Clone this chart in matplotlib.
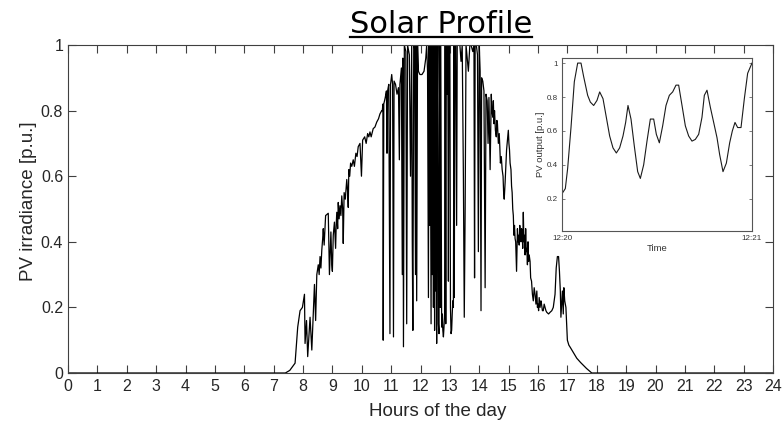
import matplotlib
matplotlib.use('Agg')
import matplotlib.pyplot as plt
from matplotlib.lines import Line2D

# ---------------- data ----------------
morning_hours = [0, 7.40, 7.55, 7.73, 7.82, 7.90, 7.98, 8.05, 8.07, 8.12,
                 8.16, 8.24, 8.30, 8.35, 8.39, 8.43, 8.47, 8.52, 8.55, 8.58,
                 8.61, 8.64, 8.67, 8.69, 8.72, 8.77, 8.86, 8.90, 8.93, 8.95,
                 8.98, 9.00, 9.03, 9.07, 9.11, 9.13, 9.15, 9.18, 9.20, 9.23,
                 9.26, 9.29, 9.32, 9.35, 9.37, 9.40, 9.44, 9.49, 9.52, 9.54,
                 9.56, 9.59, 9.62, 9.66, 9.71, 9.75, 9.80, 9.84, 9.88, 9.94,
                 9.99, 10.03, 10.10, 10.15, 10.20, 10.24, 10.28, 10.32, 10.39, 10.45,
                 10.51, 10.57, 10.62, 10.68]
morning_irr = [0, 0, 0.008, 0.03, 0.14, 0.19, 0.20, 0.24, 0.09, 0.16,
               0.05, 0.17, 0.07, 0.18, 0.27, 0.16, 0.30, 0.33, 0.30, 0.355,
               0.32, 0.375, 0.41, 0.44, 0.39, 0.48, 0.487, 0.30, 0.38, 0.43,
               0.33, 0.31, 0.42, 0.46, 0.38, 0.45, 0.49, 0.44, 0.52, 0.47,
               0.51, 0.48, 0.54, 0.50, 0.395, 0.55, 0.53, 0.59, 0.55, 0.505,
               0.62, 0.60, 0.64, 0.63, 0.65, 0.63, 0.67, 0.66, 0.69, 0.70,
               0.60, 0.71, 0.72, 0.70, 0.73, 0.72, 0.735, 0.72, 0.745, 0.75,
               0.765, 0.775, 0.79, 0.80]

midday_hours = [10.70, 10.72, 10.73, 10.75, 10.80, 10.84, 10.86, 10.88, 10.92, 10.96,
                10.98, 11.02, 11.05, 11.08, 11.10, 11.15, 11.20, 11.25, 11.28, 11.30,
                11.35, 11.38, 11.40, 11.42, 11.45, 11.50, 11.53, 11.56, 11.62, 11.66,
                11.70, 11.72, 11.74, 11.77, 11.80, 11.83, 11.85, 11.87, 11.90, 11.93,
                11.98, 12.05, 12.12, 12.18, 12.21, 12.24, 12.27, 12.29, 12.31, 12.33,
                12.36, 12.38, 12.40, 12.42, 12.44, 12.46, 12.48, 12.50, 12.52, 12.54,
                12.55, 12.57, 12.59, 12.61, 12.63, 12.65, 12.67, 12.69, 12.72, 12.74,
                12.76, 12.78, 12.80, 12.82, 12.84, 12.86, 12.88, 12.90, 12.93, 12.95,
                12.97, 13.00, 13.02, 13.04, 13.06, 13.08, 13.10, 13.12, 13.14, 13.15,
                13.17, 13.20, 13.23, 13.25, 13.30, 13.34, 13.38, 13.42, 13.46, 13.49,
                13.52, 13.55, 13.60, 13.63, 13.68, 13.72, 13.78, 13.82, 13.84, 13.86,
                13.90, 13.94, 13.97, 14.00, 14.03, 14.06, 14.08, 14.12, 14.16, 14.20,
                14.23, 14.27, 14.30, 14.33, 14.37]
midday_irr = [0.80, 0.82, 0.10, 0.82, 0.84, 0.86, 0.67, 0.86, 0.88, 0.12,
              0.88, 0.91, 0.88, 0.11, 0.89, 0.88, 0.85, 0.87, 0.65, 0.88,
              0.93, 0.30, 0.96, 0.08, 1.0, 0.98, 0.15, 1.0, 0.97, 0.60,
              1.0, 0.40, 0.13, 1.0, 0.99, 0.30, 1.0, 0.22, 1.0, 0.92,
              0.91, 0.91, 0.92, 0.96, 1.0, 0.92, 0.23, 1.0, 0.45, 1.0,
              0.15, 1.0, 0.30, 1.0, 0.20, 1.0, 0.13, 1.0, 0.25, 1.0,
              0.09, 0.80, 1.0, 0.15, 0.12, 1.0, 0.20, 1.0, 0.14, 0.18,
              0.13, 0.11, 0.14, 0.18, 1.0, 0.15, 1.0, 0.85, 1.0, 0.28,
              1.0, 1.0, 0.20, 0.12, 0.13, 0.18, 0.22, 0.20, 1.0, 0.23,
              1.0, 1.0, 0.45, 1.0, 1.0, 1.0, 0.95, 1.0, 0.60, 0.17,
              0.50, 1.0, 0.95, 0.92, 1.0, 1.0, 0.98, 1.0, 0.29, 1.0,
              1.0, 0.97, 0.37, 1.0, 0.92, 0.19, 0.90, 0.89, 0.86, 0.26,
              0.85, 0.83, 0.70, 0.84, 0.62]

afternoon_hours = [14.41, 14.43, 14.46, 14.48, 14.50, 14.52, 14.55, 14.58, 14.60, 14.62,
                   14.65, 14.68, 14.70, 14.72, 14.75, 14.78, 14.81, 14.83, 14.85, 14.88,
                   14.90, 14.93, 14.95, 14.97, 14.99, 15.01, 15.03, 15.05, 15.08, 15.10,
                   15.12, 15.14, 15.16, 15.18, 15.20, 15.22, 15.24, 15.27, 15.30, 15.32,
                   15.34, 15.36, 15.38, 15.40, 15.42, 15.44, 15.46, 15.48, 15.50, 15.52,
                   15.54, 15.56, 15.58, 15.60, 15.62, 15.64, 15.66, 15.68, 15.70, 15.73,
                   15.75, 15.78, 15.81, 15.84, 15.87, 15.90, 15.93, 15.96, 15.98, 16.00,
                   16.02, 16.04, 16.07, 16.10, 16.12, 16.15, 16.18, 16.21, 16.24, 16.27,
                   16.30, 16.36, 16.41, 16.47, 16.52, 16.58, 16.62, 16.66, 16.70, 16.73,
                   16.76, 16.78, 16.80, 16.83, 16.86, 16.88, 16.91, 16.95, 16.98, 17.00,
                   17.05, 17.10, 17.20, 17.32, 17.45, 17.54, 17.65, 17.75, 17.83, 24.0]
afternoon_irr = [0.85, 0.80, 0.78, 0.83, 0.76, 0.80, 0.74, 0.72, 0.77, 0.76,
                 0.70, 0.73, 0.69, 0.64, 0.66, 0.62, 0.60, 0.55, 0.53, 0.58,
                 0.62, 0.68, 0.70, 0.72, 0.74, 0.70, 0.68, 0.64, 0.62, 0.57,
                 0.55, 0.50, 0.48, 0.42, 0.45, 0.41, 0.40, 0.31, 0.44, 0.40,
                 0.42, 0.39, 0.45, 0.41, 0.40, 0.44, 0.43, 0.38, 0.49, 0.40,
                 0.42, 0.36, 0.44, 0.37, 0.38, 0.33, 0.40, 0.34, 0.36, 0.34,
                 0.29, 0.28, 0.24, 0.22, 0.26, 0.24, 0.21, 0.25, 0.20, 0.21,
                 0.19, 0.23, 0.20, 0.22, 0.21, 0.19, 0.19, 0.21, 0.20, 0.19,
                 0.185, 0.18, 0.185, 0.19, 0.20, 0.24, 0.32, 0.355, 0.355, 0.31,
                 0.25, 0.17, 0.20, 0.25, 0.18, 0.26, 0.22, 0.20, 0.14, 0.10,
                 0.085, 0.078, 0.063, 0.045, 0.032, 0.024, 0.014, 0.006, 0.0, 0.0]

inset_seconds = [0, 1.05, 1.79, 2.84, 3.89, 4.95, 6.0, 6.84, 8.1, 8.95,
                 10.0, 11.05, 11.9, 12.95, 14.0, 15.05, 16.1, 17.16, 18.2, 19.26,
                 20.1, 20.84, 21.79, 22.84, 23.9, 24.74, 25.79, 26.84, 27.9, 28.95,
                 29.79, 30.74, 31.79, 32.84, 33.9, 34.95, 36.0, 36.84, 37.9, 38.95,
                 40.0, 41.05, 42.1, 43.16, 44.2, 44.95, 45.79, 46.84, 47.9, 48.95,
                 49.79, 50.84, 51.9, 52.95, 53.79, 54.63, 55.47, 56.53, 57.58, 58.63,
                 60]
inset_output = [0.23, 0.26, 0.38, 0.62, 0.89, 1.0, 1.0, 0.92, 0.81, 0.77,
                0.75, 0.78, 0.83, 0.79, 0.68, 0.57, 0.50, 0.47, 0.50, 0.57,
                0.65, 0.75, 0.67, 0.51, 0.36, 0.32, 0.40, 0.54, 0.67, 0.67,
                0.58, 0.53, 0.63, 0.75, 0.81, 0.83, 0.87, 0.87, 0.75, 0.63,
                0.57, 0.54, 0.55, 0.58, 0.68, 0.81, 0.84, 0.74, 0.65, 0.56,
                0.46, 0.36, 0.41, 0.53, 0.60, 0.65, 0.62, 0.62, 0.79, 0.94,
                1.0]

x_ticks = list(range(0, 25))
y_ticks = [0, 0.2, 0.4, 0.6, 0.8, 1]
y_tick_labels = ['0', '0.2', '0.4', '0.6', '0.8', '1']
inset_y_ticks = [0.2, 0.4, 0.6, 0.8, 1]
inset_y_labels = ['0.2', '0.4', '0.6', '0.8', '1']
inset_x_ticks = [0, 60]
inset_x_labels = ['12:20', '12:21']

hours = morning_hours + midday_hours + afternoon_hours
irradiance = morning_irr + midday_irr + afternoon_irr

# ---------------- figure ----------------
plt.rcParams['font.family'] = ['Liberation Sans', 'DejaVu Sans']
W, H = 782, 422
fig = plt.figure(figsize=(W / 100, H / 100), dpi=100)
fig.patch.set_facecolor('white')

spine_c = '#404040'
text_c = '#262626'

ax = fig.add_axes([68 / W, 49 / H, 705 / W, 328 / H])
ax.plot(hours, irradiance, color='black', lw=0.9)
ax.set_xlim(0, 24)
ax.set_ylim(0, 1)
ax.set_xticks(x_ticks)
ax.set_xticklabels([str(t) for t in x_ticks])
ax.set_yticks(y_ticks)
ax.set_yticklabels(y_tick_labels)
ax.tick_params(direction='in', length=5.5, width=0.8, top=True, right=True,
               labelsize=11.5, colors=spine_c, labelcolor=text_c)
ax.tick_params(axis='x', pad=4)
ax.tick_params(axis='y', pad=3.5)
for s in ax.spines.values():
    s.set_color(spine_c)
    s.set_linewidth(0.8)

fig.text(438 / W, (H - 416.5) / H, 'Hours of the day', ha='center', va='baseline',
         fontsize=13.5, color=text_c)
fig.text(28.5 / W, (H - 201) / H, 'PV irradiance [p.u.]', ha='center', va='center',
         rotation=90, fontsize=13.5, color=text_c)

# title with underline
title = fig.text(441 / W, (H - 33.3) / H, 'Solar Profile', ha='center', va='baseline',
                 fontsize=22, family='DejaVu Sans', color='black')

# ---------------- inset ----------------
ins = fig.add_axes([562 / W, 191 / H, 190 / W, 173 / H])
ins.plot(inset_seconds, inset_output, color='#1a1a1a', lw=0.8)
ins.set_xlim(0, 60)
ins.set_ylim(0.01, 1.03)
ins.set_xticks(inset_x_ticks)
ins.set_xticklabels(inset_x_labels)
ins.set_yticks(inset_y_ticks)
ins.set_yticklabels(inset_y_labels)
ins.tick_params(direction='in', length=2, width=0.6, top=True, right=True,
                labelsize=5.8, colors='#666666', labelcolor='#333333', pad=3)
ins.set_xlabel('Time', fontsize=6.8, color='#333333', labelpad=1)
ins.set_ylabel('PV output [p.u.]', fontsize=6.8, color='#333333', labelpad=1)
for s in ins.spines.values():
    s.set_color('#555555')
    s.set_linewidth(0.8)

fig.canvas.draw()
bb = title.get_window_extent()
y_line = (H - 37.3) / H
fig.add_artist(Line2D([bb.x0 / W, bb.x1 / W], [y_line, y_line],
                      transform=fig.transFigure, color='black', lw=1.6))

fig.savefig('out.png', dpi=100, facecolor='white')
